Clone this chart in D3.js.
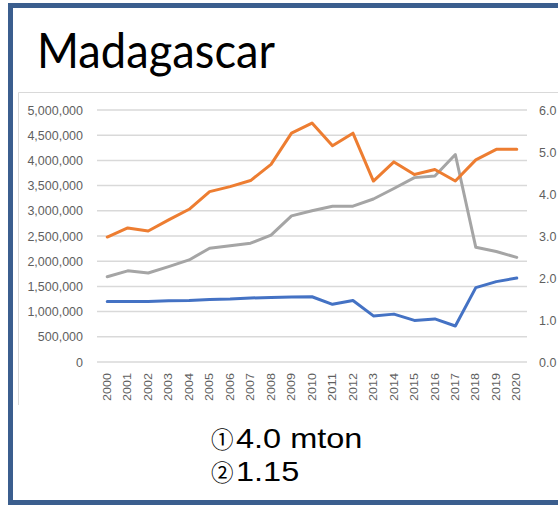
<!DOCTYPE html>
<html>
<head>
<meta charset="utf-8">
<script src="https://cdn.jsdelivr.net/npm/d3@7"></script>
<style>
  body { margin: 0; background: #fff; }
  svg { display: block; }
</style>
</head>
<body>
<svg width="558" height="505"></svg>
<script>
// data
var years = ["2000","2001","2002","2003","2004","2005","2006","2007","2008","2009","2010",
             "2011","2012","2013","2014","2015","2016","2017","2018","2019","2020"];
// orange, left axis
var production = [2480000, 2660000, 2600000, 2820000, 3030000, 3380000, 3480000, 3600000, 3920000, 4540000, 4740000,
                  4290000, 4540000, 3590000, 3970000, 3720000, 3820000, 3590000, 4010000, 4220000, 4220000];
// blue, left axis
var area = [1200000, 1200000, 1200000, 1215000, 1220000, 1240000, 1250000, 1270000, 1280000, 1290000, 1295000,
            1145000, 1220000, 915000, 950000, 825000, 855000, 715000, 1475000, 1595000, 1665000];
// gray, right axis
var yieldT = [2.03, 2.17, 2.12, 2.27, 2.43, 2.71, 2.77, 2.83, 3.02, 3.48, 3.60,
              3.71, 3.71, 3.88, 4.13, 4.39, 4.43, 4.94, 2.73, 2.63, 2.49];
var leftTicks = [0, 500000, 1000000, 1500000, 2000000, 2500000, 3000000, 3500000, 4000000, 4500000, 5000000];
var rightTicks = [0, 1, 2, 3, 4, 5, 6];
var noteMarks = ["\u2460", "\u2461"];
var notes = ["4.0 mton", "1.15"];

var svg = d3.select("svg");

// slide frame
svg.append("rect").attr("x", 8).attr("y", 3).attr("width", 560).attr("height", 5).attr("fill", "#3b5e8e");
svg.append("rect").attr("x", 8).attr("y", 3).attr("width", 5).attr("height", 502).attr("fill", "#3b5e8e");
svg.append("rect").attr("x", 8).attr("y", 500).attr("width", 560).attr("height", 5).attr("fill", "#3b5e8e");

svg.append("text")
  .attr("x", 37).attr("y", 68)
  .attr("font-family", "Lato, Noto Sans, sans-serif")
  .attr("font-size", 48)
  .attr("textLength", 238).attr("lengthAdjust", "spacingAndGlyphs")
  .attr("fill", "#000")
  .text("Madagascar");

// chart box (cut off below)
svg.append("path")
  .attr("d", "M18.5,405 V92.5 H558")
  .attr("fill", "none").attr("stroke", "#d9d9d9").attr("stroke-width", 1);

var x = d3.scaleBand().domain(years).range([97, 527]);
var yL = d3.scaleLinear().domain([0, 5000000]).range([362, 110]);
var yR = d3.scaleLinear().domain([0, 6]).range([362, 110]);
var cx = function(d) { return x(d) + x.bandwidth() / 2; };

// gridlines
svg.append("g").selectAll("line")
  .data(leftTicks).enter().append("line")
  .attr("x1", 97).attr("x2", 527)
  .attr("y1", function(d) { return yL(d); })
  .attr("y2", function(d) { return yL(d); })
  .attr("stroke", "#d9d9d9").attr("stroke-width", 1.5);

var axisFont = "Liberation Sans, Arial, sans-serif";

var leftAxis = d3.axisLeft(yL).tickValues(leftTicks).tickSize(0).tickPadding(14)
  .tickFormat(d3.format(","));
svg.append("g").attr("transform", "translate(97,0)").call(leftAxis)
  .call(function(g) { g.select(".domain").remove(); })
  .selectAll("text")
  .attr("font-family", axisFont).attr("font-size", 12.5).attr("fill", "#5f5f5f");

var rightAxis = d3.axisRight(yR).tickValues(rightTicks).tickSize(0).tickPadding(12)
  .tickFormat(d3.format(".1f"));
svg.append("g").attr("transform", "translate(527,0)").call(rightAxis)
  .call(function(g) { g.select(".domain").remove(); })
  .selectAll("text")
  .attr("font-family", axisFont).attr("font-size", 12.5).attr("fill", "#5f5f5f");

// year labels, rotated
svg.append("g").selectAll("text")
  .data(years).enter().append("text")
  .attr("transform", function(d) { return "translate(" + cx(d) + ",373) rotate(-90)"; })
  .attr("text-anchor", "end")
  .attr("dy", "0.35em")
  .attr("font-family", axisFont).attr("font-size", 10.5)
  .attr("textLength", 28).attr("lengthAdjust", "spacingAndGlyphs")
  .attr("fill", "#5f5f5f")
  .text(function(d) { return d; });

// lines
function drawLine(vals, yScale, color) {
  var line = d3.line()
    .x(function(d, i) { return cx(years[i]); })
    .y(function(d) { return yScale(d); });
  svg.append("path")
    .datum(vals)
    .attr("d", line)
    .attr("fill", "none")
    .attr("stroke", color)
    .attr("stroke-width", 3)
    .attr("stroke-linejoin", "round")
    .attr("stroke-linecap", "round");
}
drawLine(area, yL, "#4472c4");
drawLine(yieldT, yR, "#a5a5a5");
drawLine(production, yL, "#ed7d31");

// white box over the bottom of the chart
svg.append("rect").attr("x", 13).attr("y", 405).attr("width", 545).attr("height", 95).attr("fill", "#fff");

var noteG = svg.append("g");
noteG.selectAll("text.mark")
  .data(noteMarks).enter().append("text")
  .attr("class", "mark")
  .attr("x", 211)
  .attr("y", function(d, i) { return 448 + i * 33; })
  .attr("font-family", "Noto Sans CJK JP, sans-serif")
  .attr("font-size", 22.5)
  .attr("fill", "#000")
  .text(function(d) { return d; });
noteG.selectAll("text.note")
  .data(notes).enter().append("text")
  .attr("class", "note")
  .attr("transform", function(d, i) { return "translate(236," + (448 + i * 33) + ") scale(1.16,1)"; })
  .attr("font-family", "Liberation Sans, Arial, sans-serif")
  .attr("font-size", 28)
  .attr("fill", "#000")
  .text(function(d) { return d; });
</script>
</body>
</html>
